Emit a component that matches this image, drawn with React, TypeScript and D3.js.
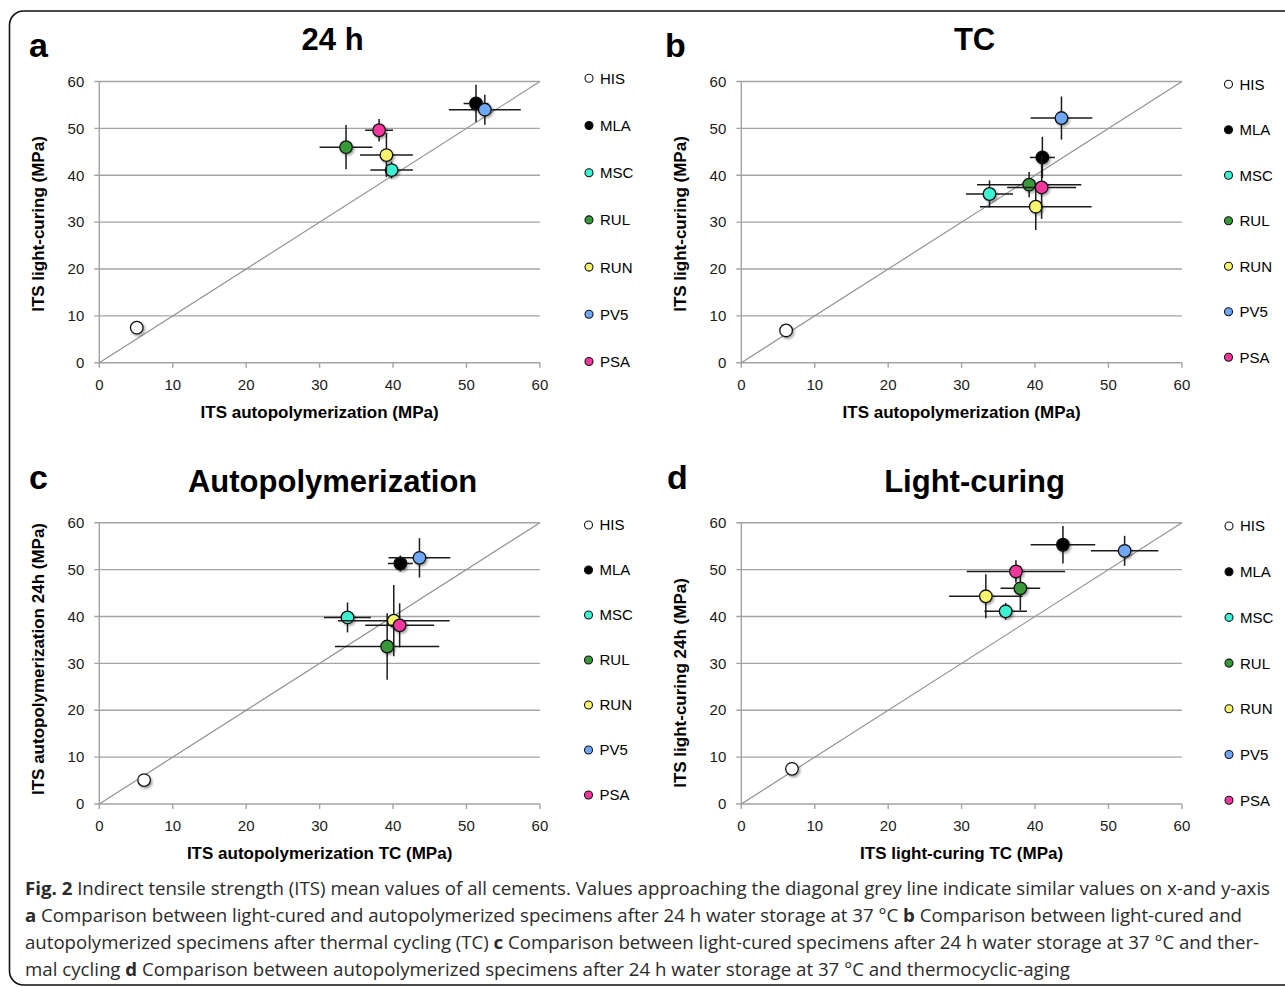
import React from 'react';
import * as d3 from 'd3';

// cements, marker colours
const materials = ['HIS', 'MLA', 'MSC', 'RUL', 'RUN', 'PV5', 'PSA'];
const colors = ['#ffffff', '#000000', '#3cf2d2', '#38993a', '#f8f56c', '#6fa7f6', '#f2379d'];

// mean ITS values (MPa)
const lc24 = [7.5, 55.3, 41.1, 46.0, 44.3, 54.0, 49.6];
const auto24 = [5.1, 51.3, 39.8, 33.6, 39.1, 52.5, 38.1];
const autoTC = [6.1, 41.0, 33.8, 39.2, 40.1, 43.6, 40.9];
const lcTC = [6.9, 43.8, 36.0, 38.0, 33.3, 52.2, 37.4];

// standard deviations (MPa)
const sdLc24 = [0.4, 4.0, 1.8, 4.7, 4.7, 3.2, 2.4];
const sdAuto24 = [0.4, 1.7, 2.9, 3.6, 3.6, 4.9, 1.9];
const sdAutoTC = [0.4, 1.7, 3.2, 7.1, 7.6, 4.2, 4.7];
const sdLcTC = [0.4, 4.4, 2.9, 2.7, 5.0, 4.6, 6.7];

const axisTicks = [0, 10, 20, 30, 40, 50, 60];

const panels = [
  {
    letter: 'a', title: '24 h', xs: auto24, ys: lc24, xErr: sdAuto24, yErr: sdLc24,
    xLabel: 'ITS autopolymerization (MPa)', yLabel: 'ITS light-curing (MPa)',
    left: 99.3, top: 81.5, yTitleX: 38, yTitleY: 224, legX: 589, legY: 78.3, legStep: 47.2,
    letterX: 29, letterY: 57, titleY: 50,
  },
  {
    letter: 'b', title: 'TC', xs: autoTC, ys: lcTC, xErr: sdAutoTC, yErr: sdLcTC,
    xLabel: 'ITS autopolymerization (MPa)', yLabel: 'ITS light-curing (MPa)',
    left: 741.3, top: 81.5, yTitleX: 680, yTitleY: 224, legX: 1228.5, legY: 84.3, legStep: 45.5,
    letterX: 665, letterY: 57, titleY: 50,
  },
  {
    letter: 'c', title: 'Autopolymerization', xs: autoTC, ys: auto24, xErr: sdAutoTC, yErr: sdAutoTC,
    xLabel: 'ITS autopolymerization TC (MPa)', yLabel: 'ITS autopolymerization 24h (MPa)',
    left: 99.3, top: 522.7, yTitleX: 38, yTitleY: 659, legX: 588.5, legY: 525, legStep: 45,
    letterX: 29, letterY: 489, titleY: 492,
  },
  {
    letter: 'd', title: 'Light-curing', xs: lcTC, ys: lc24, xErr: sdLcTC, yErr: sdLc24,
    xLabel: 'ITS light-curing TC (MPa)', yLabel: 'ITS light-curing 24h (MPa)',
    left: 741.3, top: 522.7, yTitleX: 680, yTitleY: 683, legX: 1229, legY: 526, legStep: 45.7,
    letterX: 667, letterY: 489, titleY: 492,
  },
];

const PW = 440.6;
const PH = 281.3;
const grey = '#a3a3a3';
const font = 'Liberation Sans, Arial, sans-serif';

function Panel({ p }) {
  const x = d3.scaleLinear().domain([0, 60]).range([p.left, p.left + PW]);
  const y = d3.scaleLinear().domain([0, 60]).range([p.top + PH, p.top]);
  const cx = p.left + PW / 2;
  return (
    <g fontFamily={font}>
      <text x={p.letterX} y={p.letterY} fontSize={34} fontWeight="bold">{p.letter}</text>
      <text x={cx + 13} y={p.titleY} fontSize={31} fontWeight="bold" textAnchor="middle">{p.title}</text>
      {/* grid + y ticks */}
      {axisTicks.map(t => (
        <g key={'y' + t}>
          <line x1={x(0) - 5} x2={x(60)} y1={y(t)} y2={y(t)} stroke={grey} strokeWidth={1.4} />
          <text x={x(0) - 15} y={y(t)} dy="0.35em" fontSize={15} textAnchor="end" fill="#1a1a1a">{t}</text>
        </g>
      ))}
      <line x1={x(0)} x2={x(0)} y1={y(0)} y2={y(60)} stroke={grey} strokeWidth={1.4} />
      {axisTicks.map(t => (
        <g key={'x' + t}>
          <line x1={x(t)} x2={x(t)} y1={y(0)} y2={y(0) + 5} stroke={grey} strokeWidth={1.4} />
          <text x={x(t)} y={y(0) + 22} dy="0.35em" fontSize={15} textAnchor="middle" fill="#1a1a1a">{t}</text>
        </g>
      ))}
      <line x1={x(0)} x2={x(60)} y1={y(0)} y2={y(60)} stroke="#939393" strokeWidth={1.2} />
      <text x={cx} y={y(0) + 49} dy="0.35em" fontSize={17} fontWeight="bold" textAnchor="middle">{p.xLabel}</text>
      <text transform={`translate(${p.yTitleX},${p.yTitleY}) rotate(-90)`} dy="0.35em" fontSize={17}
        fontWeight="bold" textAnchor="middle">{p.yLabel}</text>
      {materials.map((m, i) => (
        <g key={m}>
          <line x1={x(p.xs[i] - p.xErr[i])} x2={x(p.xs[i] + p.xErr[i])} y1={y(p.ys[i])} y2={y(p.ys[i])}
            stroke="#1a1a1a" strokeWidth={1.5} />
          <line x1={x(p.xs[i])} x2={x(p.xs[i])} y1={y(p.ys[i] - p.yErr[i])} y2={y(p.ys[i] + p.yErr[i])}
            stroke="#1a1a1a" strokeWidth={1.5} />
          <circle cx={x(p.xs[i])} cy={y(p.ys[i])} r={6.3} fill={colors[i]} stroke="#111" strokeWidth={1.3}
            filter="url(#shadow)" />
        </g>
      ))}
      {materials.map((m, i) => (
        <g key={'l' + m} transform={`translate(${p.legX},${p.legY + i * p.legStep})`}>
          <circle r={4} fill={colors[i]} stroke="#111" strokeWidth={1.1} />
          <text x={11} dy="0.36em" fontSize={15}>{m}</text>
        </g>
      ))}
    </g>
  );
}

const captionLines = [
  { parts: [['Fig. 2', true], [' Indirect tensile strength (ITS) mean values of all cements. Values approaching the diagonal grey line indicate similar values on x-and y-axis', false]], len: 1245 },
  { parts: [['a', true], [' Comparison between light-cured and autopolymerized specimens after 24 h water storage at 37 °C ', false], ['b', true], [' Comparison between light-cured and', false]], len: 1217 },
  { parts: [['autopolymerized specimens after thermal cycling (TC) ', false], ['c', true], [' Comparison between light-cured specimens after 24 h water storage at 37 °C and ther-', false]], len: 1234 },
  { parts: [['mal cycling ', false], ['d', true], [' Comparison between autopolymerized specimens after 24 h water storage at 37 °C and thermocyclic-aging', false]], len: 1045 },
];

export default function App() {
  return (
    <svg width={1285} height={987} style={{ position: 'absolute', left: 0, top: 0, background: '#fff' }}>
      <defs>
        <filter id="shadow" x="-50%" y="-50%" width="200%" height="200%">
          <feDropShadow dx={1.5} dy={1.8} stdDeviation={1.3} floodColor="#000" floodOpacity={0.35} />
        </filter>
      </defs>
      <rect x={9.5} y={11} width={1320} height={974} rx={14} fill="none" stroke="#111" strokeWidth={1.6} />
      {panels.map(p => <Panel key={p.letter} p={p} />)}
      {captionLines.map((l, i) => (
        <text key={i} x={25} y={895 + i * 27} fontSize={17.5} fontFamily="Open Sans, sans-serif" fill="#2b2b2b"
          textLength={l.len} lengthAdjust="spacingAndGlyphs">
          {l.parts.map(([s, b], j) => (
            <tspan key={j} fontWeight={b ? 'bold' : 'normal'}>{s}</tspan>
          ))}
        </text>
      ))}
    </svg>
  );
}
